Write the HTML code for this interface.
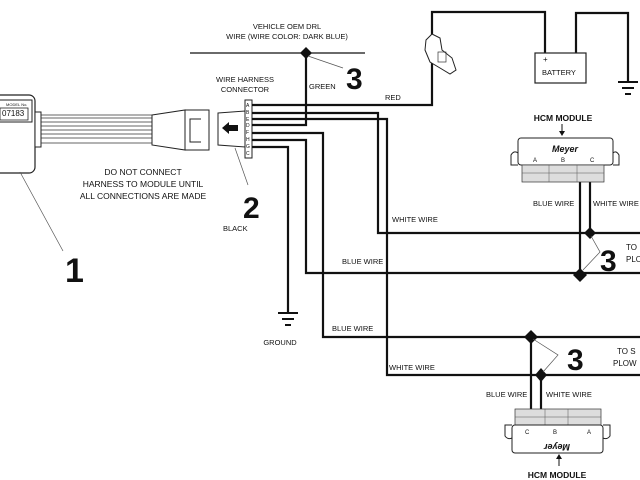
<!DOCTYPE html>
<html><head><style>
html,body{margin:0;padding:0;background:#fff;}
svg{display:block;}
text{font-family:"Liberation Sans",sans-serif;fill:#111;}
</style></head><body>
<svg width="640" height="480" viewBox="0 0 640 480" xmlns="http://www.w3.org/2000/svg">
<rect width="640" height="480" fill="#fff"/>
<!-- left module -->
<rect x="-10" y="95" width="45" height="78" rx="6" fill="#fff" stroke="#222" stroke-width="1.2"/>
<rect x="-5" y="100" width="37" height="22" fill="#fff" stroke="#222"/>
<text x="6" y="106" font-size="4">MODEL No.</text>
<rect x="0" y="108" width="28" height="12" fill="#fff" stroke="#222" stroke-width="0.8"/>
<text x="2" y="116" font-size="8">07183</text>
<line x1="35" y1="113" x2="35" y2="145" stroke="#222"/>
<rect x="35" y="112" width="6" height="35" fill="#fff" stroke="#222"/>
<g stroke="#333" stroke-width="0.8">
<line x1="41" y1="115" x2="152" y2="115"/><line x1="41" y1="118" x2="152" y2="118"/>
<line x1="41" y1="122" x2="152" y2="122"/><line x1="41" y1="126" x2="152" y2="126"/>
<line x1="41" y1="130" x2="152" y2="130"/><line x1="41" y1="134" x2="152" y2="134"/>
<line x1="41" y1="138" x2="152" y2="138"/><line x1="41" y1="143" x2="152" y2="143"/>
</g>
<polygon points="152,115 185,110 185,150 152,145" fill="#fff" stroke="#222"/>
<rect x="185" y="110" width="24" height="40" fill="#fff" stroke="#222"/>
<path d="M201 119 H190 V142 H201" fill="none" stroke="#222"/>
<line x1="20" y1="172" x2="63" y2="251" stroke="#555" stroke-width="0.7"/>
<text x="65" y="282" font-size="34" font-weight="bold">1</text>
<text x="143" y="175" font-size="8.5" text-anchor="middle">DO NOT CONNECT</text>
<text x="143" y="187" font-size="8.5" text-anchor="middle">HARNESS TO MODULE UNTIL</text>
<text x="143" y="199" font-size="8.5" text-anchor="middle">ALL CONNECTIONS ARE MADE</text>
<!-- harness connector -->
<polygon points="218,113 245,111 245,147 218,145" fill="#fff" stroke="#222"/>
<path d="M229 122 L222 128 L229 134 V131 H238 V125 H229 Z" fill="#111"/>
<rect x="245" y="100" width="7" height="58" fill="#fff" stroke="#222"/>
<text x="246" y="107" font-size="5">A</text><text x="246" y="114" font-size="5">B</text>
<text x="246" y="121" font-size="5">E</text><text x="246" y="127" font-size="5">D</text>
<text x="246" y="134" font-size="5">F</text><text x="246" y="141" font-size="5">H</text>
<text x="246" y="148" font-size="5">G</text><text x="246" y="155" font-size="5">C</text>
<text x="245" y="82" font-size="7.5" text-anchor="middle">WIRE HARNESS</text>
<text x="245" y="92" font-size="7.5" text-anchor="middle">CONNECTOR</text>
<line x1="235" y1="148" x2="248" y2="185" stroke="#555" stroke-width="0.7"/>
<text x="243" y="218" font-size="30" font-weight="bold">2</text>
<text x="223" y="231" font-size="7.5">BLACK</text>
<!-- DRL -->
<line x1="190" y1="53" x2="365" y2="53" stroke="#111" stroke-width="1.2"/>
<text x="287" y="29" font-size="7.5" text-anchor="middle">VEHICLE OEM DRL</text>
<text x="287" y="39" font-size="7.5" text-anchor="middle">WIRE (WIRE COLOR: DARK BLUE)</text>
<polygon points="306,47 312,53 306,59 300,53" fill="#111"/>
<line x1="308" y1="56" x2="343" y2="68" stroke="#555" stroke-width="0.7"/>
<text x="346" y="89" font-size="30" font-weight="bold">3</text>
<text x="309" y="89" font-size="7.5">GREEN</text>
<text x="385" y="100" font-size="7.5">RED</text>
<!-- wires -->
<g fill="none" stroke="#111" stroke-width="2.2">
<path d="M252 105 H432 V12 H545 V53"/>
<path d="M576 53 V13 H628 V82"/>
<path d="M306 53 V125 H252"/>
<path d="M252 113 H378 V233 H640"/>
<path d="M252 119 H387 V375 H640"/>
<path d="M252 133 H323 V337 H640"/>
<path d="M252 140 H306 V273 H640"/>
<path d="M252 147 H288 V313"/>
<path d="M580 275 V182"/>
<path d="M590 233 V182"/>
<path d="M531 337 V410"/>
<path d="M541 375 V410"/>
</g>
<!-- grounds -->
<g stroke="#111" stroke-width="2">
<line x1="278" y1="313" x2="298" y2="313"/><line x1="282" y1="319" x2="294" y2="319"/><line x1="285" y1="325" x2="291" y2="325"/>
<line x1="618" y1="82" x2="638" y2="82"/><line x1="622" y1="88" x2="634" y2="88"/><line x1="625" y1="94" x2="631" y2="94"/>
</g>
<text x="280" y="345" font-size="7.5" text-anchor="middle">GROUND</text>
<!-- fuse holder -->
<path d="M426 40 L432 34 L440 38 L442 50 L452 58 L456 70 L450 74 L440 68 L430 62 L425 50 Z" fill="#fff" stroke="#222"/>
<rect x="438" y="52" width="8" height="10" fill="none" stroke="#333" stroke-width="0.7"/>
<!-- battery -->
<rect x="535" y="53" width="51" height="30" fill="#fff" stroke="#222" stroke-width="1.2"/>
<text x="543" y="62" font-size="8">+</text>
<text x="542" y="75" font-size="7.5">BATTERY</text>
<!-- upper HCM -->
<text x="563" y="121" font-size="8.5" font-weight="bold" text-anchor="middle">HCM MODULE</text>
<line x1="562" y1="124" x2="562" y2="133" stroke="#111"/>
<polygon points="559,131 565,131 562,136" fill="#111"/>
<rect x="518" y="138" width="95" height="27" rx="3" fill="#fff" stroke="#222"/>
<path d="M518 165 H511 V155 Q514 150 518 153" fill="none" stroke="#222"/>
<path d="M613 165 H619 V155 Q616 150 613 153" fill="none" stroke="#222"/>
<text x="565" y="152" font-size="9" font-weight="bold" font-style="italic" text-anchor="middle">Meyer</text>
<text x="533" y="162" font-size="6">A</text><text x="561" y="162" font-size="6">B</text><text x="590" y="162" font-size="6">C</text>
<rect x="522" y="165" width="82" height="17" fill="#ddd" stroke="#333" stroke-width="0.7"/>
<g stroke="#555" stroke-width="0.5"><line x1="549" y1="165" x2="549" y2="182"/><line x1="577" y1="165" x2="577" y2="182"/><line x1="522" y1="173" x2="604" y2="173"/></g>
<text x="533" y="206" font-size="7.5">BLUE WIRE</text>
<text x="593" y="206" font-size="7.5">WHITE WIRE</text>
<text x="392" y="222" font-size="7.5">WHITE WIRE</text>
<text x="342" y="264" font-size="7.5">BLUE WIRE</text>
<polygon points="590,227 596,233 590,239 584,233" fill="#111"/>
<polygon points="580,268 587,275 580,282 573,275" fill="#111"/>
<path d="M591 236 L600 252 L583 270" fill="none" stroke="#555" stroke-width="0.7"/>
<text x="600" y="271" font-size="30" font-weight="bold">3</text>
<text x="626" y="250" font-size="8">TO</text>
<text x="626" y="262" font-size="8">PLO</text>
<!-- lower -->
<text x="332" y="331" font-size="7.5">BLUE WIRE</text>
<text x="389" y="370" font-size="7.5">WHITE WIRE</text>
<polygon points="531,330 538,337 531,344 524,337" fill="#111"/>
<polygon points="541,368 547,375 541,382 535,375" fill="#111"/>
<path d="M533 339 L558 355 L543 372" fill="none" stroke="#555" stroke-width="0.7"/>
<text x="567" y="370" font-size="30" font-weight="bold">3</text>
<text x="617" y="354" font-size="8">TO S</text>
<text x="613" y="366" font-size="8">PLOW</text>
<text x="486" y="397" font-size="7.5">BLUE WIRE</text>
<text x="546" y="397" font-size="7.5">WHITE WIRE</text>
<rect x="515" y="409" width="86" height="17" fill="#ddd" stroke="#333" stroke-width="0.7"/>
<g stroke="#555" stroke-width="0.5"><line x1="545" y1="409" x2="545" y2="426"/><line x1="568" y1="409" x2="568" y2="426"/><line x1="515" y1="417" x2="601" y2="417"/></g>
<rect x="512" y="425" width="91" height="28" rx="3" fill="#fff" stroke="#222"/>
<path d="M512 425 H505 V436 Q508 440 512 438" fill="none" stroke="#222"/>
<path d="M603 425 H610 V436 Q607 440 603 438" fill="none" stroke="#222"/>
<text x="525" y="434" font-size="6">C</text><text x="553" y="434" font-size="6">B</text><text x="587" y="434" font-size="6">A</text>
<text x="557" y="438" font-size="9" font-weight="bold" font-style="italic" text-anchor="middle" transform="rotate(180 557 441)">Meyer</text>
<line x1="559" y1="456" x2="559" y2="466" stroke="#111"/>
<polygon points="556,459 562,459 559,454" fill="#111"/>
<text x="557" y="478" font-size="8.5" font-weight="bold" text-anchor="middle">HCM MODULE</text>
</svg>
</body></html>
